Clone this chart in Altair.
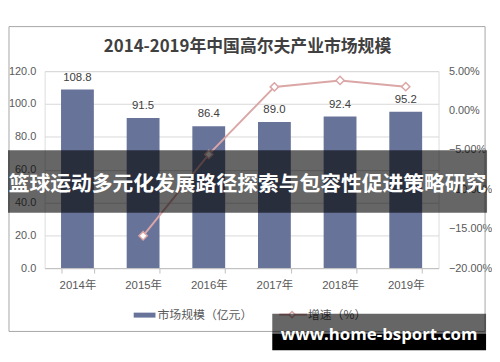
import altair as alt
import pandas as pd

years = ["2014年", "2015年", "2016年", "2017年", "2018年", "2019年"]
market = [108.8, 91.5, 86.4, 89.0, 92.4, 95.2]
growth_years = ["2015年", "2016年", "2017年", "2018年", "2019年"]
growth = [-0.159, -0.0557, 0.030, 0.0382, 0.0303]

title_text = "2014-2019年中国高尔夫产业市场规模"
legend_bar = "市场规模（亿元）"
legend_line = "增速（%）"
banner_text = "篮球运动多元化发展路径探索与包容性促进策略研究"
watermark_text = "www.home-bsport.com"

bar_df = pd.DataFrame({"year": years, "value": market})
line_df = pd.DataFrame({"year": growth_years, "growth": growth})

BAR = "#68739a"
LINE = "#dba6a6"
LAB = "#595959"
FONT = "Liberation Sans, Noto Sans CJK SC"
CJK = "Noto Sans CJK SC"

one = alt.Data(values=[{"k": 0}])

xenc = alt.X("year:N", sort=years, title=None,
             scale=alt.Scale(paddingInner=0.5, paddingOuter=0.25),
             axis=alt.Axis(labelAngle=0, domainColor="#bfbfbf", tickColor="#bfbfbf",
                           tickSize=5, tickBand="extent", labelPadding=7,
                           labelFontSize=11.5, labelColor=LAB, labelFont=FONT))

ysc = alt.Scale(domain=[0, 120], nice=False)
gsc = alt.Scale(domain=[-0.2, 0.05], nice=False)

bars = alt.Chart(bar_df).mark_bar(color=BAR).encode(
    x=xenc,
    y=alt.Y("value:Q", title=None, scale=ysc,
            axis=alt.Axis(orient="left", values=[0, 20, 40, 60, 80, 100, 120],
                          format=".1f", grid=True, gridColor="#d9d9d9",
                          domain=False, ticks=False, labelPadding=9,
                          labelFontSize=11, labelColor=LAB, labelFont=FONT)),
)
bar_labels = alt.Chart(bar_df).mark_text(dy=-12, fontSize=11.5, color="#404040",
                                         font=FONT).encode(
    x=alt.X("year:N", sort=years),
    y=alt.Y("value:Q", scale=ysc, axis=None),
    text=alt.Text("value:Q", format=".1f"),
)
line = alt.Chart(line_df).mark_line(color=LINE, strokeWidth=2).encode(
    x=alt.X("year:N", sort=years),
    y=alt.Y("growth:Q", title=None, scale=gsc,
            axis=alt.Axis(orient="right",
                          values=[-0.2, -0.15, -0.1, -0.05, 0.0, 0.05],
                          format=".2%", grid=False, domain=False, ticks=False,
                          labelPadding=10, labelFontSize=11, labelColor=LAB,
                          labelFont=FONT)))
pts = alt.Chart(line_df).mark_point(shape="diamond", filled=True, fill="white",
                                    stroke=LINE, strokeWidth=1.5, size=70,
                                    opacity=1).encode(
    x=alt.X("year:N", sort=years),
    y=alt.Y("growth:Q", scale=gsc, axis=None))

# page coords -> plot coords : x-45, y-70
frame = alt.Chart(one).mark_rect(fill="transparent", stroke="#a6a6a6",
                                 strokeWidth=1).encode(
    x=alt.value(-36), x2=alt.value(445), y=alt.value(-45), y2=alt.value(263))
title = alt.Chart(one).mark_text(text=title_text, font=CJK, fontSize=17,
                                 fontWeight="bold", color="#404040").encode(
    x=alt.value(205), y=alt.value(-24))

leg_bar = alt.Chart(one).mark_rect(color=BAR).encode(
    x=alt.value(90), x2=alt.value(112), y=alt.value(244), y2=alt.value(249))
leg_bar_t = alt.Chart(one).mark_text(text=legend_bar, font=CJK, fontSize=12,
                                     color=LAB, align="left").encode(
    x=alt.value(114), y=alt.value(246))
leg_line = alt.Chart(one).mark_rule(color=LINE, strokeWidth=2).encode(
    x=alt.value(237), x2=alt.value(265), y=alt.value(246))
leg_pt = alt.Chart(one).mark_point(shape="diamond", filled=True, fill="white",
                                   stroke=LINE, strokeWidth=1.5, size=40,
                                   opacity=1).encode(
    x=alt.value(250), y=alt.value(246))
leg_line_t = alt.Chart(one).mark_text(text=legend_line, font=CJK, fontSize=12,
                                      color=LAB, align="left").encode(
    x=alt.value(266), y=alt.value(246))

banner = alt.Chart(one).mark_rect(color="black", opacity=0.6).encode(
    x=alt.value(-37), x2=alt.value(447), y=alt.value(80), y2=alt.value(143))
banner_t = alt.Chart(one).mark_text(text=banner_text, font=CJK, fontSize=21,
                                    fontWeight="bold", color="white").encode(
    x=alt.value(205), y=alt.value(115))

wm1 = alt.Chart(one).mark_rect(color="black", opacity=0.6).encode(
    x=alt.value(230), x2=alt.value(446), y=alt.value(245), y2=alt.value(265))
wm2 = alt.Chart(one).mark_rect(color="black").encode(
    x=alt.value(230), x2=alt.value(446), y=alt.value(265), y2=alt.value(282))
wm_t = alt.Chart(one).mark_text(text=watermark_text, font="Open Sans", fontSize=17,
                                fontWeight="bold", color="white").encode(
    x=alt.value(338), y=alt.value(267))

chart = alt.layer(
    frame, title, bars, bar_labels, line, pts,
    leg_bar, leg_bar_t, leg_line, leg_pt, leg_line_t,
    banner, banner_t, wm1, wm2, wm_t
).resolve_scale(y="independent").properties(
    width=398, height=199,
    autosize=alt.AutoSizeParams(type="none"),
    padding={"left": 37, "top": 62, "right": 54, "bottom": 85},
).configure_view(stroke=None).configure(background="white")

chart.save("out.html", embed_options={"renderer": "svg", "actions": False})
